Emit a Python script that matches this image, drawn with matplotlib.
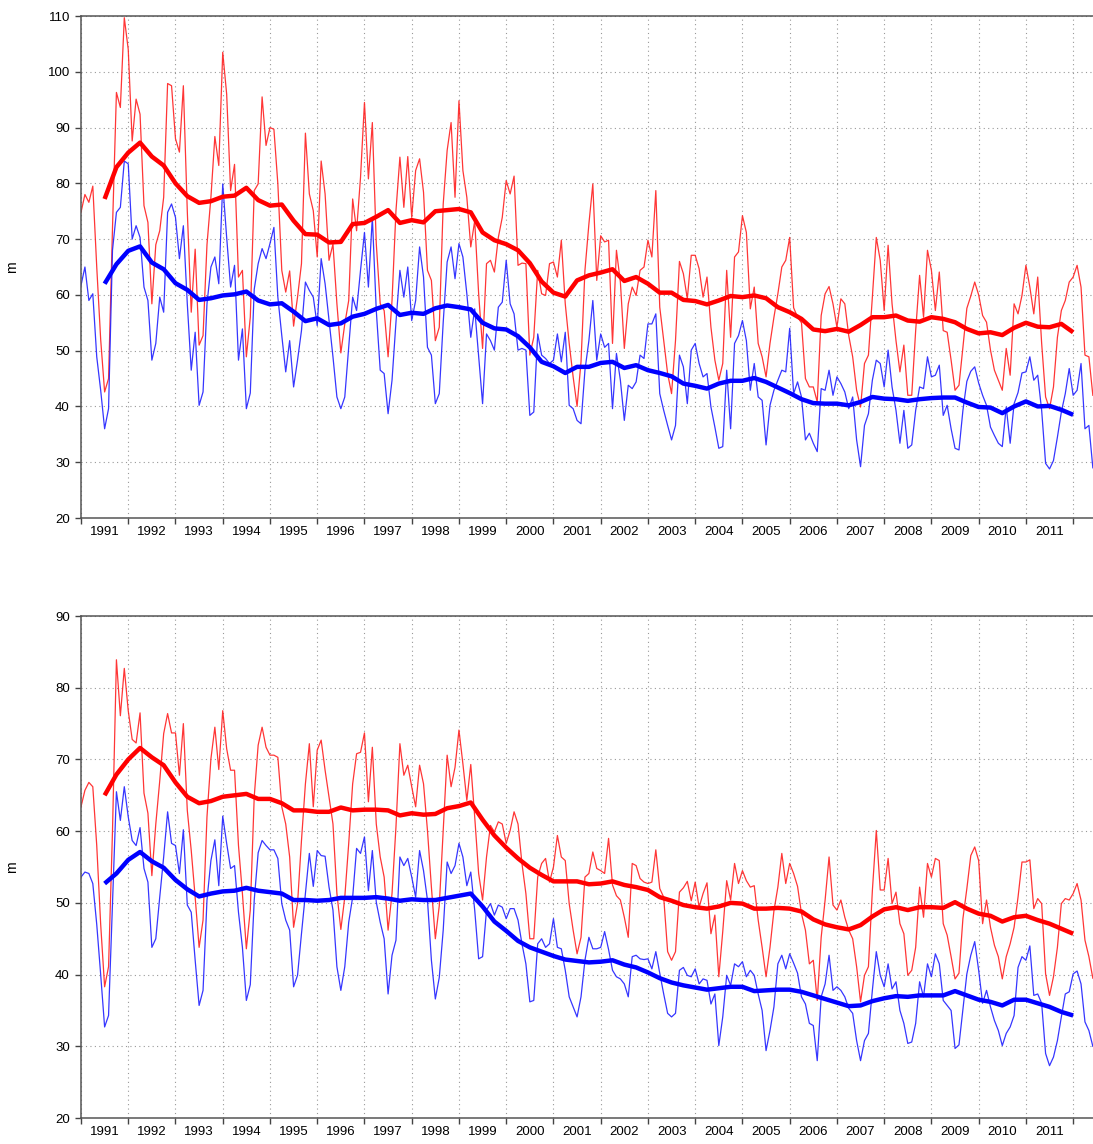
import numpy as np
import matplotlib.pyplot as plt
from matplotlib.ticker import FixedLocator, NullFormatter, FixedFormatter, MultipleLocator

plt.rcParams['font.family'] = ['Liberation Sans', 'DejaVu Sans']

years = list(range(1991, 2012))

# monthly values, Jan 1991 onwards (one row per year)
top_red = [
    74.8, 78, 76.6, 79.5, 65, 52, 42.6, 45, 72, 96.3, 93.6, 109.7,
    104, 87.6, 95.1, 92.4, 76, 73, 58.4, 69, 71.5, 77.5, 97.9, 97.5,
    88, 85.6, 97.5, 75, 56.9, 68.2, 51, 52.7, 69, 77.5, 88.4, 83.2,
    103.5, 96, 78.7, 83.4, 63.2, 64.4, 48.9, 56, 78.7, 79.9, 95.5, 86.8,
    90, 89.7, 79.9, 64.4, 60.5, 64.3, 54.4, 59.6, 65.6, 89, 78.1, 75.1,
    66.8, 84, 78.1, 66.2, 69.1, 58.4, 49.6, 54.8, 59, 77.2, 71.5, 81.1,
    94.5, 80.8, 90.9, 69.2, 58.4, 57.2, 48.9, 59, 75.1, 84.7, 75.7, 84.8,
    73.9, 82.3, 84.4, 78.4, 64.4, 62.6, 51.8, 54.2, 76.3, 85.9, 90.9, 77.5,
    94.8, 82.3, 77.5, 68.6, 73.3, 60.2, 50.4, 65.6, 66.2, 64.1, 70.3, 73.9,
    80.5, 78.1, 81.3, 65.3, 65.7, 65.6, 49.2, 52.4, 64.4, 60.2, 59.9, 65.6,
    65.9, 63.2, 69.8, 58.4, 51.3, 45.3, 40, 48, 64.4, 72.7, 79.9, 62.6,
    70.6, 69.5, 69.8, 51.3, 68, 62.3, 50.4, 58.4, 61.4, 59.9, 64.4, 65,
    69.8, 66.8, 78.7, 57.8, 51.8, 45.9, 42.3, 51.8, 66, 63.8, 59.3, 67.1,
    67.1, 64.7, 59.6, 63.2, 54.2, 48.3, 44.7, 47.7, 64.4, 52.4, 66.8, 67.7,
    74.2, 71.2, 57.5, 61.4, 51.3, 48.9, 45.3, 51.3, 56, 60.2, 65, 66.2,
    70.3, 57.7, 56, 55, 45, 43.5, 43.5, 40.8, 56.3, 60.2, 61.5, 58.4,
    54.2, 59.3, 58.4, 52.7, 48.9, 42.9, 39.9, 47.7, 49.2, 59.6, 70.3, 66.2,
    57.2, 68.9, 58.4, 51.8, 46.2, 51, 42, 42, 53.6, 63.5, 56, 68,
    64.4, 57.2, 64.1, 53.6, 53.3, 48.3, 42.9, 43.8, 50.6, 57.6, 59.8, 62.3,
    60, 56.3, 55.1, 50.1, 46.5, 44.7, 42.9, 50.4, 45.6, 58.4, 56.6, 59.9,
    65.3, 61.4, 56.6, 63.2, 51.3, 41.7, 39.6, 43.5, 52.4, 57.2, 59, 62.3,
    63.2, 65.3, 61.4, 49.2, 48.9, 42,
]
top_blue = [
    61.7, 65, 59, 60.2, 48.9, 42.9, 36, 39.6, 68, 74.8, 75.7, 84,
    83.5, 70, 72.4, 70.3, 61.4, 59, 48.3, 51.3, 59.6, 56.9, 74.8, 76.3,
    73.9, 66.5, 72.4, 58.4, 46.5, 53.3, 40.2, 42.6, 58.4, 65, 66.8, 62,
    79.9, 70.3, 61.4, 65.3, 48.3, 53.9, 39.6, 42.4, 61, 65.6, 68.3, 66.5,
    69.2, 72.1, 59.6, 52.7, 46.2, 51.8, 43.5, 48.3, 53.6, 62.3, 60.8, 59.6,
    54.5, 66.5, 62, 55.4, 48.9, 41.7, 39.6, 41.7, 50.6, 59.6, 57.2, 64.4,
    71.2, 61.4, 73.9, 57.2, 46.5, 45.9, 38.7, 44.7, 55.1, 64.4, 59.6, 65,
    55.4, 59, 68.6, 63.2, 50.6, 49.2, 40.5, 42.3, 55.1, 65.9, 68.6, 62.9,
    69.2, 66.8, 60.2, 52.4, 57.5, 48.9, 40.5, 53, 51.8, 50.1, 57.8, 58.7,
    66.2, 58.4, 56.6, 50.1, 50.4, 50.1, 38.4, 39, 53, 49.2, 48.6, 47.7,
    48.3, 53, 48, 53.3, 40.2, 39.6, 37.5, 36.9, 46.5, 51.8, 59, 48.3,
    53, 50.6, 51.3, 39.6, 49.5, 44.7, 37.5, 43.8, 43.2, 44.4, 49.2, 48.6,
    54.8, 54.8, 56.6, 42.3, 39.3, 36.6, 34, 36.6, 49.2, 47.1, 40.5, 50.1,
    51.3, 47.7, 45.3, 45.9, 39.9, 36.3, 32.5, 32.8, 46.5, 36, 51.3, 52.7,
    55.4, 51.8, 42.9, 47.7, 41.7, 41.1, 33.1, 40.2, 42.9, 44.7, 46.5, 46.2,
    54, 42.3, 44.4, 41.7, 34, 35.2, 33.4, 31.9, 43.2, 42.9, 46.5, 42,
    45.3, 44.1, 42.6, 39.6, 41.7, 34, 29.2, 36.6, 38.7, 44.7, 48.3, 47.7,
    43.5, 50.1, 43.5, 39.3, 33.4, 39.3, 32.5, 33.1, 39.3, 43.5, 43.2, 48.9,
    45.3, 45.6, 47.4, 38.4, 40.2, 36, 32.5, 32.2, 39.3, 44.5, 46.3, 47.1,
    44.2, 42, 40.2, 36.3, 34.8, 33.4, 32.8, 39.9, 33.4, 40.5, 42.5, 46,
    46.2, 48.9, 44.7, 45.6, 39.3, 29.8, 28.8, 30.3, 34.5, 39, 42.3, 46.8,
    42, 42.9, 47.7, 36, 36.6, 29,
]
bot_red = [
    63.4, 65.7, 66.8, 66.2, 58, 47, 38.3, 41.1, 60, 83.9, 76.1, 82.7,
    76.8, 72.8, 72.3, 76.5, 65.3, 62.5, 53.8, 61, 67, 73.6, 76.4, 73.7,
    73.7, 67.8, 75, 62.9, 57.3, 50.8, 43.8, 47.6, 62, 70.1, 74.5, 68.6,
    76.8, 71.5, 68.5, 68.5, 58, 51.3, 43.6, 49, 64.8, 72, 74.5, 71.7,
    70.6, 70.6, 70.3, 63.4, 61, 56.4, 46.6, 49.9, 58.7, 66.6, 72.2, 63.4,
    71.3, 72.7, 68.5, 64.8, 61, 51.3, 46.3, 50.8, 58.3, 66.6, 70.8, 71,
    73.7, 64.1, 71.7, 61, 56.4, 53.6, 46.2, 51.3, 60.6, 72.2, 67.8, 69.2,
    66.2, 63.4, 69.2, 66.6, 60.1, 52.2, 45, 49.6, 60, 70.6, 66.2, 68.9,
    74.1, 69.4, 64.3, 69.3, 62, 54.1, 50.4, 56.4, 60.8, 59.9, 61.3, 61,
    58.3, 60.1, 62.7, 61, 55.5, 51.3, 45, 45, 53.6, 55.5, 56.2, 52.9,
    55, 59.4, 56.4, 55.9, 49.9, 46.2, 42.9, 45.2, 53.6, 54.1, 57.1, 54.8,
    54.5, 54.1, 59, 52.5, 51, 50.4, 48, 45.2, 55.5, 55.2, 53.4, 52.9,
    52.7, 52.9, 57.4, 52, 50.8, 43.2, 42, 43.2, 51.5, 52.1, 53, 50.3,
    52.9, 49.4, 51.3, 52.8, 45.7, 48.3, 39.7, 46, 53.1, 50.4, 55.5, 52.7,
    54.5, 53.1, 52.2, 52.4, 47.6, 43.8, 39.7, 43.8, 48.9, 52.2, 56.9, 52.7,
    55.5, 54.1, 52.3, 48.5, 46.2, 41.5, 42, 36.4, 45.2, 50.4, 56.4, 49.7,
    49, 50.4, 48, 46.2, 45, 41.1, 36.2, 39.9, 41.1, 51.7, 60.1, 51.8,
    51.8, 56.2, 49.9, 51.5, 47.1, 45.7, 39.9, 40.6, 43.8, 52.2, 48, 55.5,
    53.6, 56.2, 55.9, 47.1, 45.5, 42.5, 39.4, 40.2, 47.8, 52, 56.6, 57.8,
    55.9, 47.1, 50.4, 46.6, 44.1, 42.5, 39.4, 42.5, 44.3, 46.6, 50.8, 55.7,
    55.7, 56, 49.2, 50.6, 49.9, 40.1, 37.1, 39.7, 43.8, 49.9, 50.6, 50.4,
    51.3, 52.7, 50.4, 44.8, 42.5, 39.5,
]
bot_blue = [
    53.6, 54.3, 54.1, 52.7, 47, 40, 32.7, 34.3, 50, 65.5, 61.5, 66.2,
    62, 58.7, 58, 60.5, 54.8, 52.9, 43.8, 45, 50.8, 56.4, 62.7, 58.3,
    58, 54.1, 60.2, 49.7, 48.7, 42, 35.7, 37.8, 50.4, 55.9, 58.8, 52.4,
    62.1, 58.3, 54.8, 55.2, 48.7, 43.8, 36.4, 38.6, 50.4, 57, 58.7, 58,
    57.4, 57.4, 56.2, 49.9, 47.6, 46.2, 38.3, 39.9, 45.7, 51.3, 56.9, 52.3,
    57.3, 56.6, 56.5, 52.2, 49, 41.1, 37.8, 41.1, 47.3, 50.8, 57.6, 56.9,
    59.2, 51.7, 57.3, 50.1, 47.3, 45, 37.3, 42.7, 44.8, 56.4, 55.2, 56.2,
    53.6, 50.8, 57.3, 54.5, 50.4, 42, 36.6, 39.6, 46.2, 55.7, 54.1, 55.2,
    58.3, 56.4, 52.4, 54.3, 49, 42.2, 42.5, 49, 49.9, 48.3, 49.7, 49.4,
    47.8, 49.2, 49.2, 47.6, 44.3, 41.5, 36.2, 36.4, 44.3, 45, 43.8, 44.3,
    47.8, 43.8, 43.6, 40.6, 36.9, 35.5, 34.1, 36.9, 42, 45.2, 43.6, 43.6,
    43.8, 46, 43.5, 40.6, 39.7, 39.4, 38.7, 36.9, 42.5, 42.7, 42.2, 42.1,
    42.2, 40.8, 43.2, 40.2, 37.3, 34.6, 34.1, 34.6, 40.6, 41, 39.9, 39.7,
    40.8, 38.7, 39.4, 39.2, 35.9, 37.3, 30.1, 34.1, 39.9, 38.5, 41.5, 41.1,
    41.8, 39.7, 40.6, 39.9, 37.3, 35, 29.4, 32.2, 35.5, 41.5, 42.7, 40.8,
    42.9, 41.6, 40.2, 36.9, 35.9, 33.2, 32.9, 28, 36.9, 38.7, 42.7, 37.8,
    38.3, 37.8, 36.9, 35.3, 34.6, 30.8, 28, 30.8, 31.8, 37.8, 43.2, 39.9,
    38.3, 41.5, 38, 39, 35, 33.2, 30.4, 30.6, 33.2, 39, 36.9, 41.5,
    39.7, 42.9, 41.5, 36.4, 35.7, 35, 29.7, 30.2, 35.2, 40.1, 42.7, 44.6,
    40.6, 36, 37.8, 35.5, 33.6, 32.2, 30.1, 31.8, 32.7, 34.3, 41, 42.5,
    42, 44, 37.1, 37.3, 36, 29, 27.3, 28.5, 30.8, 34.1, 37.3, 37.6,
    40.1, 40.5, 38.7, 33.4, 32.2, 30,
]

# 12-month running means, every third month from Jul 1991
top_red_mean = [
    77.2, 82.9, 85.5, 87.3, 84.8, 83.2, 80, 77.7, 76.5, 76.8,
    77.6, 77.8, 79.2, 77, 76, 76.2, 73.3, 70.9, 70.8, 69.4,
    69.5, 72.7, 72.9, 74, 75.2, 72.9, 73.4, 73, 75, 75.2,
    75.4, 74.8, 71.2, 69.8, 69.1, 68, 65.7, 62.4, 60.4, 59.7,
    62.6, 63.5, 64, 64.6, 62.5, 63.2, 62, 60.4, 60.4, 59.1,
    58.9, 58.3, 59, 59.8, 59.6, 59.9, 59.4, 57.8, 56.9, 55.7,
    53.8, 53.5, 53.9, 53.4, 54.6, 56, 56, 56.3, 55.4, 55.2,
    56, 55.7, 55.1, 53.9, 53.1, 53.3, 52.8, 54.1, 55, 54.3,
    54.2, 54.8, 53.3,
]
top_blue_mean = [
    62, 65.5, 67.9, 68.7, 65.8, 64.6, 62.1, 60.9, 59.1, 59.4,
    59.9, 60.1, 60.6, 59, 58.3, 58.5, 57, 55.3, 55.8, 54.6,
    54.9, 56.1, 56.6, 57.5, 58.2, 56.4, 56.8, 56.6, 57.6, 58.1,
    57.8, 57.4, 55, 54, 53.8, 52.6, 50.6, 48, 47.2, 46,
    47.1, 47.1, 47.8, 48, 46.9, 47.4, 46.5, 46, 45.4, 44.1,
    43.7, 43.2, 44.1, 44.6, 44.6, 45.1, 44.4, 43.4, 42.4, 41.3,
    40.6, 40.5, 40.5, 40.2, 40.8, 41.7, 41.4, 41.3, 41, 41.3,
    41.5, 41.6, 41.6, 40.7, 39.9, 39.8, 38.8, 40, 40.9, 40,
    40.1, 39.4, 38.5,
]
bot_red_mean = [
    65, 67.9, 70, 71.6, 70.3, 69.2, 66.8, 64.8, 63.9, 64.2,
    64.8, 65, 65.2, 64.5, 64.5, 63.9, 62.9, 62.9, 62.7, 62.7,
    63.3, 62.9, 63, 63, 62.9, 62.2, 62.5, 62.3, 62.4, 63.2,
    63.5, 64, 61.6, 59.4, 57.7, 56.2, 54.9, 53.9, 53, 53,
    53, 52.6, 52.7, 53, 52.5, 52.2, 51.8, 50.8, 50.3, 49.7,
    49.4, 49.2, 49.5, 50, 49.9, 49.2, 49.2, 49.3, 49.2, 48.8,
    47.7, 47, 46.6, 46.3, 46.9, 48.1, 49.1, 49.4, 49, 49.4,
    49.4, 49.3, 50.1, 49.2, 48.5, 48.2, 47.4, 48, 48.2, 47.6,
    47.1, 46.4, 45.7,
]
bot_blue_mean = [
    52.7, 54.1, 56, 57.1, 55.8, 54.9, 53.2, 51.9, 50.9, 51.3,
    51.6, 51.7, 52.1, 51.7, 51.5, 51.3, 50.4, 50.4, 50.3, 50.4,
    50.7, 50.7, 50.7, 50.8, 50.6, 50.3, 50.5, 50.4, 50.4, 50.7,
    51, 51.3, 49.5, 47.4, 46.1, 44.7, 43.8, 43.2, 42.6, 42.1,
    41.9, 41.7, 41.8, 42, 41.4, 41, 40.3, 39.5, 38.9, 38.5,
    38.2, 37.9, 38.1, 38.3, 38.3, 37.7, 37.8, 37.9, 37.9, 37.6,
    37.1, 36.6, 36.1, 35.6, 35.7, 36.3, 36.7, 37, 36.9, 37.1,
    37.1, 37.1, 37.7, 37.1, 36.5, 36.2, 35.7, 36.5, 36.5, 36,
    35.5, 34.8, 34.3,
]

t = 1991 + np.arange(len(top_red)) / 12
t_mean = 1991 + np.arange(6, 6 + 3 * len(top_red_mean), 3) / 12

fig = plt.figure(figsize=(10.93, 11.44), dpi=100)
ax1 = fig.add_axes([0.0741, 0.5472, 0.9259, 0.4388])
ax2 = fig.add_axes([0.0741, 0.0227, 0.9259, 0.4388])


def draw(ax, red, blue, red_mean, blue_mean, ylim):
    ax.plot(t, red, color='#ff2020', lw=0.9, alpha=0.9)
    ax.plot(t, blue, color='#2020ff', lw=0.9, alpha=0.9)
    ax.plot(t_mean, red_mean, color='#ff0000', lw=3.2, solid_capstyle='butt')
    ax.plot(t_mean, blue_mean, color='#0000ff', lw=3.2, solid_capstyle='butt')

    ax.set_xlim(1991, 2012.42)
    ax.set_ylim(*ylim)
    ax.xaxis.set_major_locator(FixedLocator(list(range(1991, 2013))))
    ax.xaxis.set_major_formatter(NullFormatter())
    ax.xaxis.set_minor_locator(FixedLocator([y + 0.5 for y in years]))
    ax.xaxis.set_minor_formatter(FixedFormatter([str(y) for y in years]))
    ax.yaxis.set_major_locator(MultipleLocator(10))

    ax.tick_params(axis='x', which='major', length=4, width=1, color='#444444')
    ax.tick_params(axis='x', which='minor', length=0, pad=6, labelsize=9.5)
    ax.tick_params(axis='y', length=4, width=1, color='#444444', labelsize=9.5, pad=4)

    ax.grid(True, which='major', linestyle=(0, (1, 3)), color='#999999', lw=0.8)
    ax.set_axisbelow(True)
    for side in ['left', 'bottom', 'top']:
        ax.spines[side].set_color('#555555')
        ax.spines[side].set_linewidth(1.1)
    ax.spines['right'].set_visible(False)

    ax.set_ylabel('m', fontsize=10)
    ax.yaxis.set_label_coords(-0.061, 0.5)


draw(ax1, top_red, top_blue, top_red_mean, top_blue_mean, (20, 110))
draw(ax2, bot_red, bot_blue, bot_red_mean, bot_blue_mean, (20, 90))

fig.savefig('out.png', dpi=100)
